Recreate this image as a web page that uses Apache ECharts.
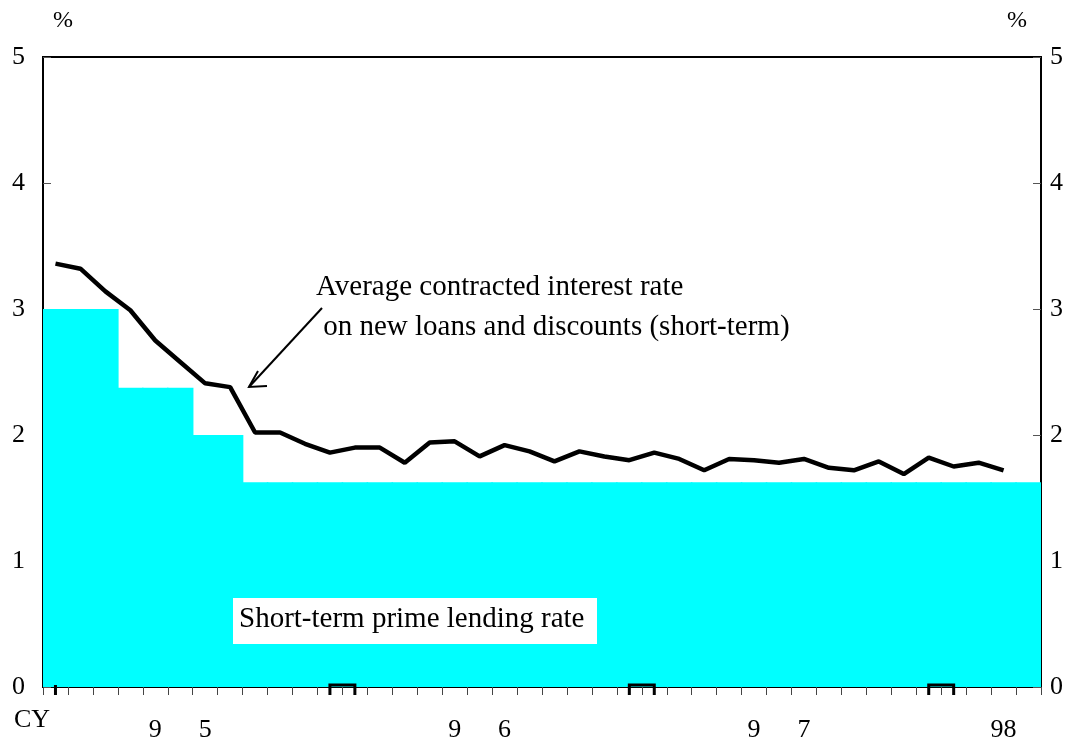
<!DOCTYPE html>
<html>
<head>
<meta charset="utf-8">
<script src="https://cdn.jsdelivr.net/npm/echarts@6/dist/echarts.min.js"></script>
<style>html,body{margin:0;padding:0;background:#fff;}#chart{width:1074px;height:739px;}</style>
</head>
<body>
<div id="chart"></div>
<script>
// Months: Jan 1995 .. Apr 1998 (last slot empty for the line)
const months = [
  'Jan-95','Feb-95','Mar-95','Apr-95','May-95','Jun-95','Jul-95','Aug-95','Sep-95','Oct-95','Nov-95','Dec-95',
  'Jan-96','Feb-96','Mar-96','Apr-96','May-96','Jun-96','Jul-96','Aug-96','Sep-96','Oct-96','Nov-96','Dec-96',
  'Jan-97','Feb-97','Mar-97','Apr-97','May-97','Jun-97','Jul-97','Aug-97','Sep-97','Oct-97','Nov-97','Dec-97',
  'Jan-98','Feb-98','Mar-98','Apr-98'
];
// Tick labels shown under the axis (year digits)
const tickLabels = [
  '','','','','9','','5','','','','','',
  '','','','','9','','6','','','','','',
  '','','','','9','','7','','','','','',
  '','','98',''
];
// Short-term prime lending rate (%)
const primeRate = [
  3.0,3.0,3.0,2.375,2.375,2.375,2.0,2.0,1.625,1.625,1.625,1.625,
  1.625,1.625,1.625,1.625,1.625,1.625,1.625,1.625,1.625,1.625,1.625,1.625,
  1.625,1.625,1.625,1.625,1.625,1.625,1.625,1.625,1.625,1.625,1.625,1.625,
  1.625,1.625,1.625,1.625
];
// Average contracted interest rate on new loans and discounts (short-term) (%)
const avgRate = [
  3.36,3.32,3.14,2.99,2.75,2.58,2.41,2.38,2.02,2.02,1.93,1.86,
  1.90,1.90,1.78,1.94,1.95,1.83,1.92,1.87,1.79,1.87,1.83,1.80,
  1.86,1.81,1.72,1.81,1.80,1.78,1.81,1.74,1.72,1.79,1.69,1.82,
  1.75,1.78,1.72
];
// Year markers on the axis: [from month, to month]
const yearMarks = [
  ['Jan-95','Jan-95'],
  ['Dec-95','Jan-96'],
  ['Dec-96','Jan-97'],
  ['Dec-97','Jan-98']
];
const yTicks = [0,1,2,3,4,5];

const FONT = '"Liberation Serif", "Times New Roman", serif';
const chart = echarts.init(document.getElementById('chart'));

const markData = yearMarks.map(m => [months.indexOf(m[0]), months.indexOf(m[1]), 0]);

const yAxisCommon = {
  type: 'value', min: yTicks[0], max: yTicks[yTicks.length-1], interval: 1,
  splitLine: {show: false},
  axisLine: {show: true, lineStyle: {color: '#000', width: 2}},
  axisTick: {show: true, inside: true, length: 8, lineStyle: {color: '#555', width: 1}},
  axisLabel: {color: '#000', fontFamily: FONT, fontSize: 26}
};

chart.setOption({
  animation: false,
  backgroundColor: '#fff',
  grid: {left: 43, right: 33, top: 57, bottom: 52, containLabel: false, outerBoundsMode: 'none',
    show: true, borderColor: '#000', borderWidth: 2, backgroundColor: 'transparent'},
  xAxis: {
    type: 'category', data: months, boundaryGap: true,
    axisLine: {show: true, onZero: false, lineStyle: {color: '#000', width: 2}},
    axisTick: {show: true, interval: 0, length: 8, lineStyle: {color: '#444', width: 1}},
    axisLabel: {interval: 0, color: '#000', fontFamily: FONT, fontSize: 26, margin: 30,
      formatter: (v, i) => tickLabels[i]},
    splitLine: {show: false}
  },
  yAxis: [
    Object.assign({}, yAxisCommon, {position: 'left', axisLabel: Object.assign({}, yAxisCommon.axisLabel, {margin: 18})}),
    Object.assign({}, yAxisCommon, {position: 'right', axisLabel: Object.assign({}, yAxisCommon.axisLabel, {margin: 9})})
  ],
  series: [
    {
      name: 'Short-term prime lending rate', type: 'bar', data: primeRate,
      barWidth: '106%', itemStyle: {color: '#00FFFF'}, z: 1
    },
    {
      name: 'Average contracted interest rate', type: 'line', data: avgRate,
      symbol: 'none', lineStyle: {color: '#000', width: 4.5}, z: 3
    },
    {
      type: 'custom', data: markData, encode: {x: [0,1], y: 2}, clip: false, z: 5,
      renderItem: function (params, api) {
        const a = api.coord([api.value(0), 0]);
        const b = api.coord([api.value(1), 0]);
        const top = a[1] - 2, bot = a[1] + 8;
        return {
          type: 'polyline',
          shape: {points: [[a[0], bot], [a[0], top], [b[0], top], [b[0], bot]]},
          style: {stroke: '#000', lineWidth: 3, fill: null}
        };
      }
    }
  ],
  graphic: [
    {type: 'text', left: 53, top: 9, z: 100, style: {text: '%', font: '24px ' + FONT, fill: '#000'}},
    {type: 'text', left: 1007, top: 9, z: 100, style: {text: '%', font: '24px ' + FONT, fill: '#000'}},
    {type: 'text', left: 14, top: 707, z: 100, style: {text: 'CY', font: '26px ' + FONT, fill: '#000'}},
    {type: 'text', left: 316, top: 267, z: 100, style: {text: 'Average contracted interest rate\n on new loans and discounts (short-term)', font: '29px ' + FONT, fill: '#000', lineHeight: 40}},
    {type: 'line', z: 100, shape: {x1: 322, y1: 308, x2: 249, y2: 387}, style: {stroke: '#000', lineWidth: 2}},
    {type: 'polyline', z: 100, shape: {points: [[258, 371], [249, 387], [267, 386]]}, style: {stroke: '#000', lineWidth: 2, fill: null}},
    {type: 'rect', z: 100, shape: {x: 233, y: 598, width: 364, height: 46}, style: {fill: '#fff'}},
    {type: 'text', z: 101, left: 239, top: 605, style: {text: 'Short-term prime lending rate', font: '29px ' + FONT, fill: '#000'}}
  ]
});
</script>
</body>
</html>
